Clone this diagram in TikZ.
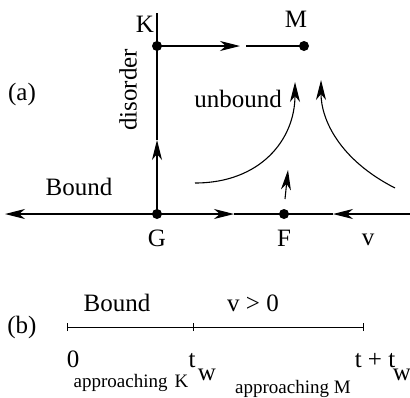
\documentclass[tikz,border=0pt]{standalone}
\usepackage{fontspec}
\setmainfont{Liberation Serif}
\usetikzlibrary{arrows.meta}
\begin{document}
\begin{tikzpicture}[x=1pt,y=-1pt,
  ln/.style={line width=1.1pt},
  tip/.style={-{Stealth[length=20pt,width=10pt,inset=6pt]}},
  dot/.style={circle,fill=black,inner sep=0pt,minimum size=10pt},
  big/.style={font=\fontsize{25}{30}\selectfont,inner sep=0pt},
  small/.style={font=\fontsize{19}{23}\selectfont,inner sep=0pt}]
\useasboundingbox (0,0) rectangle (410,397);
% (a) nodes
\node[dot] (G) at (157,214) {};
\node[dot] (K) at (157,46) {};
\node[dot] (F) at (284,214) {};
\node[dot] (M) at (304,46) {};
\coordinate (Top) at (157,13);
\coordinate (Lend) at (5,214);
\coordinate (Rend) at (410,214);
\coordinate (GK) at (157,140);
\coordinate (GF) at (234,214);
\coordinate (RF) at (333,214);
\coordinate (KM) at (240,46);
\coordinate (KM2) at (246,46);
% axes
\draw[ln,tip] (G.center) -- (Lend);
\draw[ln,tip] (G.center) -- (GF);
\draw[ln] (GF) -- (F.center);
\draw[ln,tip] (Rend) -- (RF);
\draw[ln] (RF) -- (F.center);
\draw[ln,tip] (G.center) -- (GK);
\draw[ln] (GK) -- (Top);
\draw[ln,tip] (K.center) -- (KM);
\draw[ln] (KM2) -- (M.center);
% flows
\coordinate (C1s) at (195,183);
\coordinate (C1e) at (295,82);
\coordinate (C2s) at (395,188);
\coordinate (C2e) at (321,80);
\coordinate (Fs) at (285,199);
\coordinate (Fe) at (288,170);
\draw[ln,tip] (C1s) .. controls (260,183) and (295,140) .. (C1e);
\draw[ln,tip] (C2s) .. controls (340,160) and (321,120) .. (C2e);
\draw[ln,tip] (Fs) -- (Fe);
% labels (a)
\node[big] (la) at (22,94) {(a)};
\node[big,anchor=base] (lK) at (145,32) {K};
\node[big,anchor=base] (lM) at (296,27) {M};
\node[big,anchor=base] (lG) at (157,246) {G};
\node[big,anchor=base] (lF) at (284,246) {F};
\node[big,anchor=base] (lv) at (368,245) {v};
\node[big,anchor=base] (lBound) at (79,195) {Bound};
\node[big,anchor=base] (lunb) at (238,107) {unbound};
\node[big,rotate=90] (ldis) at (128,90) {disorder};
% (b) timeline
\coordinate (T0) at (67,327);
\coordinate (T1) at (193,327);
\coordinate (T2) at (363,327);
\draw[line width=0.9pt] (T0) -- (T2);
\foreach \p in {T0,T1,T2} \draw[line width=0.9pt] ([yshift=-4pt]\p) -- ([yshift=4pt]\p);
\node[big] (lb) at (22,327) {(b)};
\node[big,anchor=base] (lB2) at (117,311) {Bound};
\node[big,anchor=base] (lv0) at (253,311) {v > 0};
\node[big,anchor=base] (l0) at (73,367) {0};
\node[big,anchor=base] (lt) at (192,367) {t};
\node[big,anchor=base] (lw) at (207,380) {w};
\node[big,anchor=base] (ltt) at (375,367) {t + t};
\node[big,anchor=base] (lw2) at (402,380) {w};
\node[small,anchor=base] (apK) at (131,387) {approaching\hspace{7pt}K};
\node[small,anchor=base] (apM) at (293,393) {approaching M};
\end{tikzpicture}
\end{document}
